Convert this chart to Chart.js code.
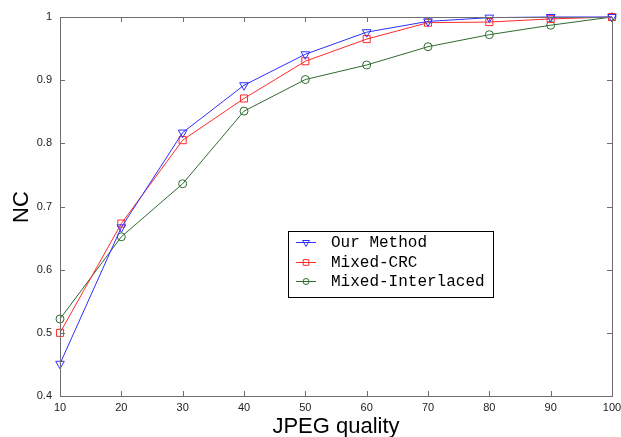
<!DOCTYPE html>
<html>
<head>
<meta charset="utf-8">
<script src="https://cdn.jsdelivr.net/npm/chart.js@4.4.0/dist/chart.umd.min.js"></script>
<style>
  html, body { margin: 0; padding: 0; background: #fff; }
  #wrap { width: 621px; height: 437px; position: relative; }
</style>
</head>
<body>
<div id="wrap"><canvas id="myChart" width="621" height="437"></canvas></div>
<script>
// data
var quality = [10, 20, 30, 40, 50, 60, 70, 80, 90, 100];
var our_method = [0.451, 0.667, 0.817, 0.892, 0.941, 0.976, 0.993, 0.999, 1.0, 1.0];
var mixed_crc = [0.500, 0.673, 0.805, 0.871, 0.930, 0.965, 0.991, 0.992, 0.997, 1.0];
var mixed_interlaced = [0.522, 0.652, 0.736, 0.851, 0.901, 0.924, 0.953, 0.972, 0.987, 1.0];
var y_ticks = [0.4, 0.5, 0.6, 0.7, 0.8, 0.9, 1];
var x_title = 'JPEG quality';
var y_title = 'NC';

function to_points(ys) {
    return quality.map(function (q, i) { return { x: q, y: ys[i] }; });
}

// matlab style box with inward ticks + axis titles
var frame_plugin = {
    id: 'frame',
    afterDraw: function (chart) {
        var ctx = chart.ctx;
        var a = chart.chartArea;
        var xs = chart.scales.x, ys = chart.scales.y;
        ctx.save();
        ctx.strokeStyle = '#6e6e6e';
        ctx.lineWidth = 1;
        ctx.strokeRect(Math.round(a.left) + 0.5, Math.round(a.top) + 0.5,
            Math.round(a.right - a.left), Math.round(a.bottom - a.top));
        ctx.beginPath();
        quality.forEach(function (q) {
            var px = Math.round(xs.getPixelForValue(q)) + 0.5;
            ctx.moveTo(px, a.bottom); ctx.lineTo(px, a.bottom - 5);
            ctx.moveTo(px, a.top); ctx.lineTo(px, a.top + 5);
        });
        y_ticks.forEach(function (v) {
            var py = Math.round(ys.getPixelForValue(v)) + 0.5;
            ctx.moveTo(a.left, py); ctx.lineTo(a.left + 5, py);
            ctx.moveTo(a.right, py); ctx.lineTo(a.right - 5, py);
        });
        ctx.stroke();

        ctx.fillStyle = '#000';
        ctx.font = '22px "Liberation Sans", Arial, sans-serif';
        ctx.textAlign = 'center';
        ctx.textBaseline = 'alphabetic';
        ctx.fillText(x_title, (a.left + a.right) / 2, 433);
        ctx.translate(28, 207);
        ctx.rotate(-Math.PI / 2);
        ctx.fillText(y_title, 0, 0);
        ctx.restore();
    }
};

// legend box placed inside the axes like the matlab one
var legend_plugin = {
    id: 'boxLegend',
    afterDraw: function (chart) {
        var ctx = chart.ctx;
        var bx = 288, by = 231, bw = 205, bh = 66;
        ctx.save();
        ctx.fillStyle = '#fff';
        ctx.fillRect(bx, by, bw, bh);
        ctx.strokeStyle = '#000';
        ctx.lineWidth = 1;
        ctx.strokeRect(bx + 0.5, by + 0.5, bw, bh);
        ctx.font = '16px "Liberation Mono", "DejaVu Sans Mono", monospace';
        ctx.textBaseline = 'middle';
        chart.data.datasets.forEach(function (ds, i) {
            var cy = by + 11 + i * 19.5;
            ctx.strokeStyle = ds.borderColor;
            ctx.fillStyle = 'rgba(0,0,0,0)';
            ctx.beginPath();
            ctx.moveTo(bx + 8, Math.round(cy) + 0.5); ctx.lineTo(bx + 28, Math.round(cy) + 0.5);
            ctx.stroke();
            Chart.helpers.drawPoint(ctx, {
                pointStyle: ds.pointStyle, radius: ds.pointRadius - 1,
                rotation: ds.pointRotation || 0, borderWidth: 1
            }, bx + 18, Math.round(cy) + 0.5);
            ctx.fillStyle = '#000';
            ctx.fillText(ds.label, bx + 43, cy + 1);
        });
        ctx.restore();
    }
};

var ctx = document.getElementById('myChart');
var chart = new Chart(ctx, {
    type: 'scatter',
    data: {
        datasets: [
            {
                label: 'Our Method',
                data: to_points(our_method),
                showLine: true,
                borderColor: '#2f2fff',
                backgroundColor: 'rgba(0,0,0,0)',
                borderWidth: 1,
                pointStyle: 'triangle',
                pointRotation: 180,
                pointRadius: 5,
                pointBorderColor: '#2f2fff',
                clip: false
            },
            {
                label: 'Mixed-CRC',
                data: to_points(mixed_crc),
                showLine: true,
                borderColor: '#ff2a2a',
                backgroundColor: 'rgba(0,0,0,0)',
                borderWidth: 1,
                pointStyle: 'rect',
                pointRadius: 5,
                pointBorderColor: '#ff2a2a',
                clip: false
            },
            {
                label: 'Mixed-Interlaced',
                data: to_points(mixed_interlaced),
                showLine: true,
                borderColor: '#2e6b2e',
                backgroundColor: 'rgba(0,0,0,0)',
                borderWidth: 1,
                pointStyle: 'circle',
                pointRadius: 4,
                pointBorderColor: '#2e6b2e',
                clip: false
            }
        ]
    },
    options: {
        responsive: false,
        animation: false,
        layout: { padding: { top: 17, right: 9, left: 0, bottom: 0 } },
        scales: {
            x: {
                type: 'linear',
                min: 10,
                max: 100,
                afterFit: function (s) {
                    s.height = 41;
                    s.paddingLeft = 0;
                    s.paddingRight = 0;
                },
                grid: { display: false, drawTicks: false },
                border: { display: false },
                ticks: {
                    stepSize: 10,
                    padding: 5,
                    color: '#222',
                    font: { family: 'Liberation Sans, Arial', size: 11 }
                }
            },
            y: {
                min: 0.4,
                max: 1,
                afterFit: function (s) {
                    s.width = 60;
                    s.paddingTop = 0;
                    s.paddingBottom = 0;
                },
                grid: { display: false, drawTicks: false },
                border: { display: false },
                ticks: {
                    stepSize: 0.1,
                    padding: 8,
                    color: '#222',
                    font: { family: 'Liberation Sans, Arial', size: 11 },
                    callback: function (v) { return Number(v.toFixed(1)).toString(); }
                }
            }
        },
        plugins: {
            legend: { display: false },
            tooltip: { enabled: false }
        }
    },
    plugins: [frame_plugin, legend_plugin]
});
</script>
</body>
</html>
